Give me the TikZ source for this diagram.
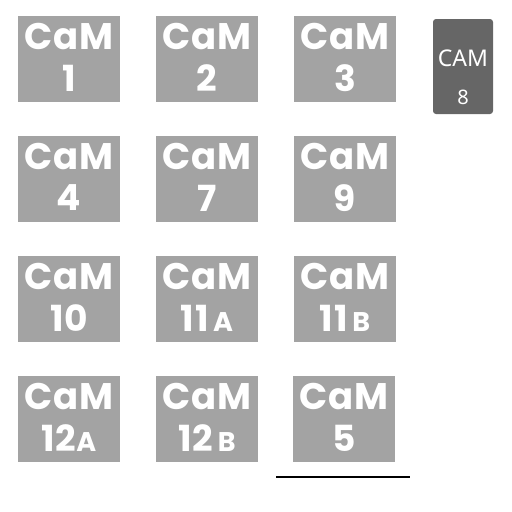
\documentclass[tikz,border=0pt]{standalone}
\usepackage{fontspec}
\newfontfamily\hand{Poppins}[UprightFont=* Bold, LetterSpace=2]
\newfontfamily\noto{Noto Sans}
\definecolor{boxgray}{HTML}{A3A3A3}
\definecolor{darkgray8}{HTML}{666666}
\tikzset{
  cambox/.style={fill=boxgray, draw=none, minimum width=102pt, minimum height=86pt, inner sep=0pt},
  camword/.style={text=white, font=\hand\fontsize{37}{37}\selectfont, inner sep=0pt},
  camnum/.style={text=white, font=\hand\fontsize{36}{36}\selectfont, inner sep=0pt},
  eightbox/.style={fill=darkgray8, draw=none, rounded corners=3pt, minimum width=60pt, minimum height=95pt, inner sep=0pt},
}
\newcommand{\sm}[1]{{\fontsize{27}{27}\selectfont #1}}
\begin{document}
\begin{tikzpicture}[x=1pt,y=-1pt]
\useasboundingbox (0,0) rectangle (512,512);
% boxes
\foreach \name/\cx/\cy/\lab in {c1/69/59/1, c2/207/59/2, c3/345/59/3,
  c4/69/179/4, c7/207/179/7, c9/345/179/9,
  c10/69/299/10, c11a/207/299/11\sm{\,A}, c11b/345/299/11\sm{\,B},
  c12a/69/419/12\sm{A}, c12b/207/419/12\sm{\,B}, c5/344/419/5}{
  \node[cambox] (\name) at (\cx,\cy) {};
  \node[camword] (\name w) at (\cx,\cy-22) {CaM};
  \node[camnum] (\name n) at (\cx,\cy+19) {\lab};
}
\node[eightbox] (c8) at (463,66.5) {};
\node[text=white, font=\noto\fontsize{23}{23}\selectfont, inner sep=0pt] (c8w) at (463,58) {CAM};
\node[text=white, font=\noto\fontsize{20}{20}\selectfont, inner sep=0pt] (c8n) at (463,97) {8};
\coordinate (l1) at (276,477);
\coordinate (l2) at (410,477);
\draw[line width=2pt] (l1) -- (l2);
\end{tikzpicture}
\end{document}
